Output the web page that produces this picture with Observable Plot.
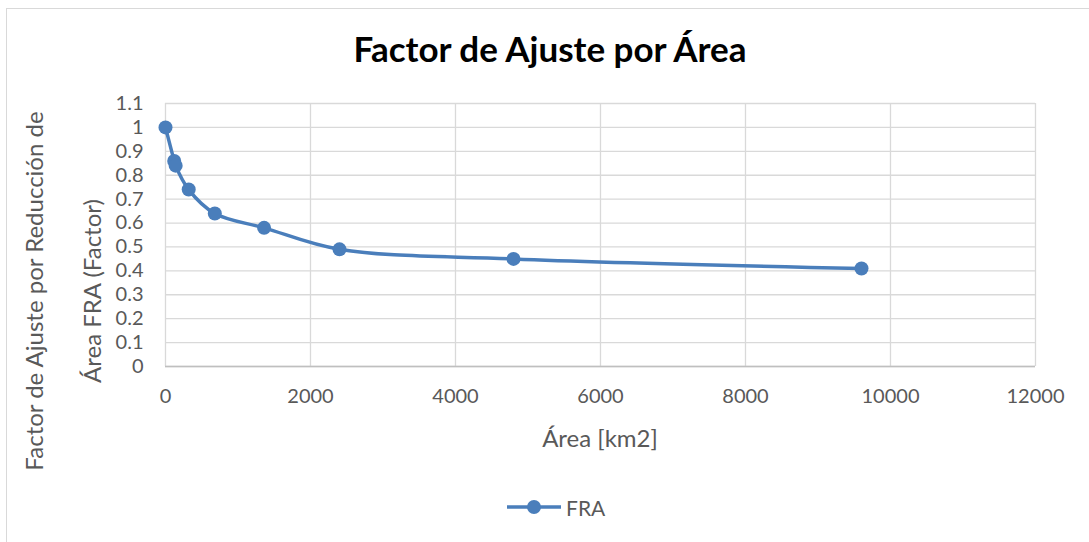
<!DOCTYPE html>
<html>
<head>
<meta charset="utf-8">
<script src="https://cdn.jsdelivr.net/npm/d3@7"></script>
<script src="https://cdn.jsdelivr.net/npm/@observablehq/plot@0.6"></script>
<style>
  html, body { margin: 0; padding: 0; background: #fff; }
  #wrap { position: relative; width: 1089px; height: 542px; overflow: hidden; font-family: Lato, "Open Sans", sans-serif; }
  #border { position: absolute; left: 6px; top: 8px; right: -10px; bottom: -10px; border: 1px solid #d9d9d9; }
  #chart { position: absolute; left: 0; top: 0; }
  .lbl { position: absolute; white-space: nowrap; color: #595959; }
  #title { position: absolute; left: 0; width: 1100px; top: 27px; text-align: center; font-weight: bold; font-size: 35px; color: #000; }
</style>
</head>
<body>
<div id="wrap">
  <div id="border"></div>
  <div id="chart"></div>
  <div id="title">Factor de Ajuste por Área</div>
  <div class="lbl" id="ylab1" style="left:33px;top:291px;font-size:24px;transform:translate(-50%,-50%) rotate(-90deg);">Factor de Ajuste por Reducción de</div>
  <div class="lbl" id="ylab2" style="left:91px;top:291px;font-size:24px;transform:translate(-50%,-50%) rotate(-90deg);">Área FRA (Factor)</div>
  <div class="lbl" id="xlab" style="left:600px;top:437px;font-size:24px;transform:translate(-50%,-50%);">Área [km2]</div>
  <div class="lbl" id="legend" style="left:505px;top:494px;font-size:21px;display:flex;align-items:center;">
    <svg width="58" height="26" style="margin-right:3px"><line x1="2" y1="13" x2="56" y2="13" stroke="#4a7ebb" stroke-width="3.5"/><circle cx="29" cy="13" r="7" fill="#4a7ebb"/></svg><span>FRA</span>
  </div>
</div>
<script>
const areas = [0, 120, 140, 320, 680, 1360, 2400, 4800, 9600];
const fra = [1.0, 0.86, 0.84, 0.74, 0.64, 0.58, 0.49, 0.45, 0.41];
const xTicks = [0, 2000, 4000, 6000, 8000, 10000, 12000];
const yTicks = [0, 0.1, 0.2, 0.3, 0.4, 0.5, 0.6, 0.7, 0.8, 0.9, 1.0, 1.1];

const data = areas.map((a, i) => ({area: a, fra: fra[i]}));
const color = "#4a7ebb";

const chart = Plot.plot({
  width: 1089,
  height: 542,
  marginLeft: 165,
  marginRight: 54,
  marginTop: 103,
  marginBottom: 176,
  style: {fontFamily: "Lato, 'Open Sans', sans-serif", background: "transparent", overflow: "visible"},
  x: {domain: [0, 12000]},
  y: {domain: [0, 1.1]},
  marks: [
    Plot.gridX(xTicks, {stroke: "#d9d9d9", strokeOpacity: 1, strokeWidth: 1.3}),
    Plot.gridY(yTicks, {stroke: "#d9d9d9", strokeOpacity: 1, strokeWidth: 1.3}),
    Plot.ruleY([0], {stroke: "#bfbfbf", strokeWidth: 1.5}),
    Plot.axisX(xTicks, {tickSize: 0, tickPadding: 22, fontSize: 20, fill: "#595959", label: null, tickFormat: d => String(d)}),
    Plot.axisY(yTicks, {tickSize: 0, tickPadding: 22, fontSize: 20, fill: "#595959", label: null, tickFormat: d => String(+d.toFixed(1))}),
    Plot.line(data, {x: "area", y: "fra", curve: "catmull-rom", stroke: color, strokeWidth: 3.5}),
    Plot.dot(data, {x: "area", y: "fra", r: 7, fill: color, stroke: null})
  ]
});
document.getElementById("chart").appendChild(chart);
</script>
</body>
</html>
